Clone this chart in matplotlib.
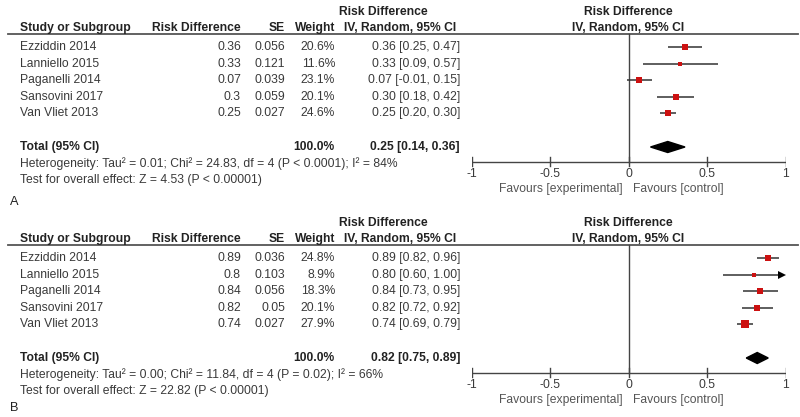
import numpy as np
import matplotlib.pyplot as plt
from matplotlib.patches import Polygon

# %% Data
studies = ["Ezziddin 2014", "Lanniello 2015", "Paganelli 2014",
           "Sansovini 2017", "Van Vliet 2013"]

# panel A
rd_a = [0.36, 0.33, 0.07, 0.3, 0.25]
se_a = ["0.056", "0.121", "0.039", "0.059", "0.027"]
w_a = [20.6, 11.6, 23.1, 20.1, 24.6]
lo_a = [0.25, 0.09, -0.01, 0.18, 0.20]
hi_a = [0.47, 0.57, 0.15, 0.42, 0.30]
tot_a = (0.25, 0.14, 0.36)
het_a = "Heterogeneity: Tau² = 0.01; Chi² = 24.83, df = 4 (P < 0.0001); I² = 84%"
test_a = "Test for overall effect: Z = 4.53 (P < 0.00001)"

# panel B
rd_b = [0.89, 0.8, 0.84, 0.82, 0.74]
se_b = ["0.036", "0.103", "0.056", "0.05", "0.027"]
w_b = [24.8, 8.9, 18.3, 20.1, 27.9]
lo_b = [0.82, 0.60, 0.73, 0.72, 0.69]
hi_b = [0.96, 1.00, 0.95, 0.92, 0.79]
tot_b = (0.82, 0.75, 0.89)
het_b = "Heterogeneity: Tau² = 0.00; Chi² = 11.84, df = 4 (P = 0.02); I² = 66%"
test_b = "Test for overall effect: Z = 22.82 (P < 0.00001)"

ticks = [-1, -0.5, 0, 0.5, 1]
tick_labels = ["-1", "-0.5", "0", "0.5", "1"]

# %% Setup
W, H = 800, 417
fig = plt.figure(figsize=(W / 100, H / 100), dpi=100)
bg = fig.add_axes([0, 0, 1, 1])
bg.set_xlim(0, W)
bg.set_ylim(H, 0)
bg.axis("off")

fs = 8.7
dark = "#222222"
txt = "#3a3a3a"
red = "#cc1111"
font = "Liberation Sans"

# forest axes: x in risk difference units, y in pixel rows
x0, x1 = 471.5, 785.5
fa = fig.add_axes([x0 / W, 0, (x1 - x0) / W, 1])
fa.set_xlim(-1, 1)
fa.set_ylim(H, 0)
fa.axis("off")


def panel(off, label, label_y, rd, se, w, lo, hi, tot, het, test):
    # headers
    bold = dict(fontsize=fs, weight="bold", color=dark, va="center",
                family=font)
    bg.text(383, off + 12, "Risk Difference", ha="center", **bold)
    bg.text(20, off + 28, "Study or Subgroup", ha="left", **bold)
    bg.text(241, off + 28, "Risk Difference", ha="right", **bold)
    bg.text(285, off + 28, "SE", ha="right", **bold)
    bg.text(335, off + 28, "Weight", ha="right", **bold)
    bg.text(400, off + 28, "IV, Random, 95% CI", ha="center", **bold)
    fa.text(0, off + 12, "Risk Difference", ha="center", **bold)
    fa.text(0, off + 28, "IV, Random, 95% CI", ha="center", **bold)
    bg.plot([8, 798], [off + 34, off + 34], color="#555555", lw=1.3)

    # rows
    norm = dict(fontsize=fs, color=txt, va="center", family=font)
    ys = off + 47 + np.arange(len(studies)) * 16.6
    for i, y in enumerate(ys):
        bg.text(20, y, studies[i], ha="left", **norm)
        bg.text(241, y, f"{rd[i]}", ha="right", **norm)
        bg.text(285, y, se[i], ha="right", **norm)
        bg.text(335, y, f"{w[i]:.1f}%", ha="right", **norm)
        bg.text(460, y, f"{rd[i]:.2f} [{lo[i]:.2f}, {hi[i]:.2f}]",
                ha="right", **norm)
        # CI line and square; CI reaching the axis end gets an arrow
        end = hi[i]
        if hi[i] >= 1:
            end = hi[i] - 0.02
            fa.plot(end, y, marker=">", color="black", ms=6,
                    markeredgewidth=0, zorder=3)
        fa.plot([lo[i], end], [y, y], color="#333333", lw=1.1,
                solid_capstyle="butt", zorder=2)
        fa.plot(rd[i], y, marker="s", color=red,
                ms=0.97 * np.sqrt(w[i]), markeredgewidth=0, zorder=3)

    # total
    yt = off + 147
    bg.text(20, yt, "Total (95% CI)", ha="left", **bold)
    bg.text(335, yt, "100.0%", ha="right", **bold)
    bg.text(460, yt, f"{tot[0]:.2f} [{tot[1]:.2f}, {tot[2]:.2f}]",
            ha="right", **bold)
    est, tlo, thi = tot
    fa.add_patch(Polygon([[tlo, yt], [est, yt - 5.5], [thi, yt],
                          [est, yt + 5.5]], closed=True, color="black",
                         zorder=3))
    bg.text(20, off + 164, het, ha="left", **norm)
    bg.text(20, off + 180, test, ha="left", **norm)
    bg.text(10, label_y, label, fontsize=fs + 0.5, color=dark, ha="left",
            va="center", family=font)

    # axis
    ya = off + 162
    fa.plot([0, 0], [off + 34, ya], color="#444444", lw=1.0, zorder=1)
    fa.plot([-1, 1], [ya, ya], color="#444444", lw=1.0)
    for t, tl in zip(ticks, tick_labels):
        fa.plot([t, t], [ya - 5, ya + 4], color="#444444", lw=1.0)
        fa.text(t, ya + 12, tl, ha="center", **norm)
    fa.text(-0.04, ya + 27, "Favours [experimental]", fontsize=fs,
            color="#555555", ha="right", va="center", family=font)
    fa.text(0.03, ya + 27, "Favours [control]", fontsize=fs,
            color="#555555", ha="left", va="center", family=font)


panel(0, "A", 202, rd_a, se_a, w_a, lo_a, hi_a, tot_a, het_a, test_a)
panel(211, "B", 408, rd_b, se_b, w_b, lo_b, hi_b, tot_b, het_b, test_b)

fig.savefig("out.png", dpi=100)
